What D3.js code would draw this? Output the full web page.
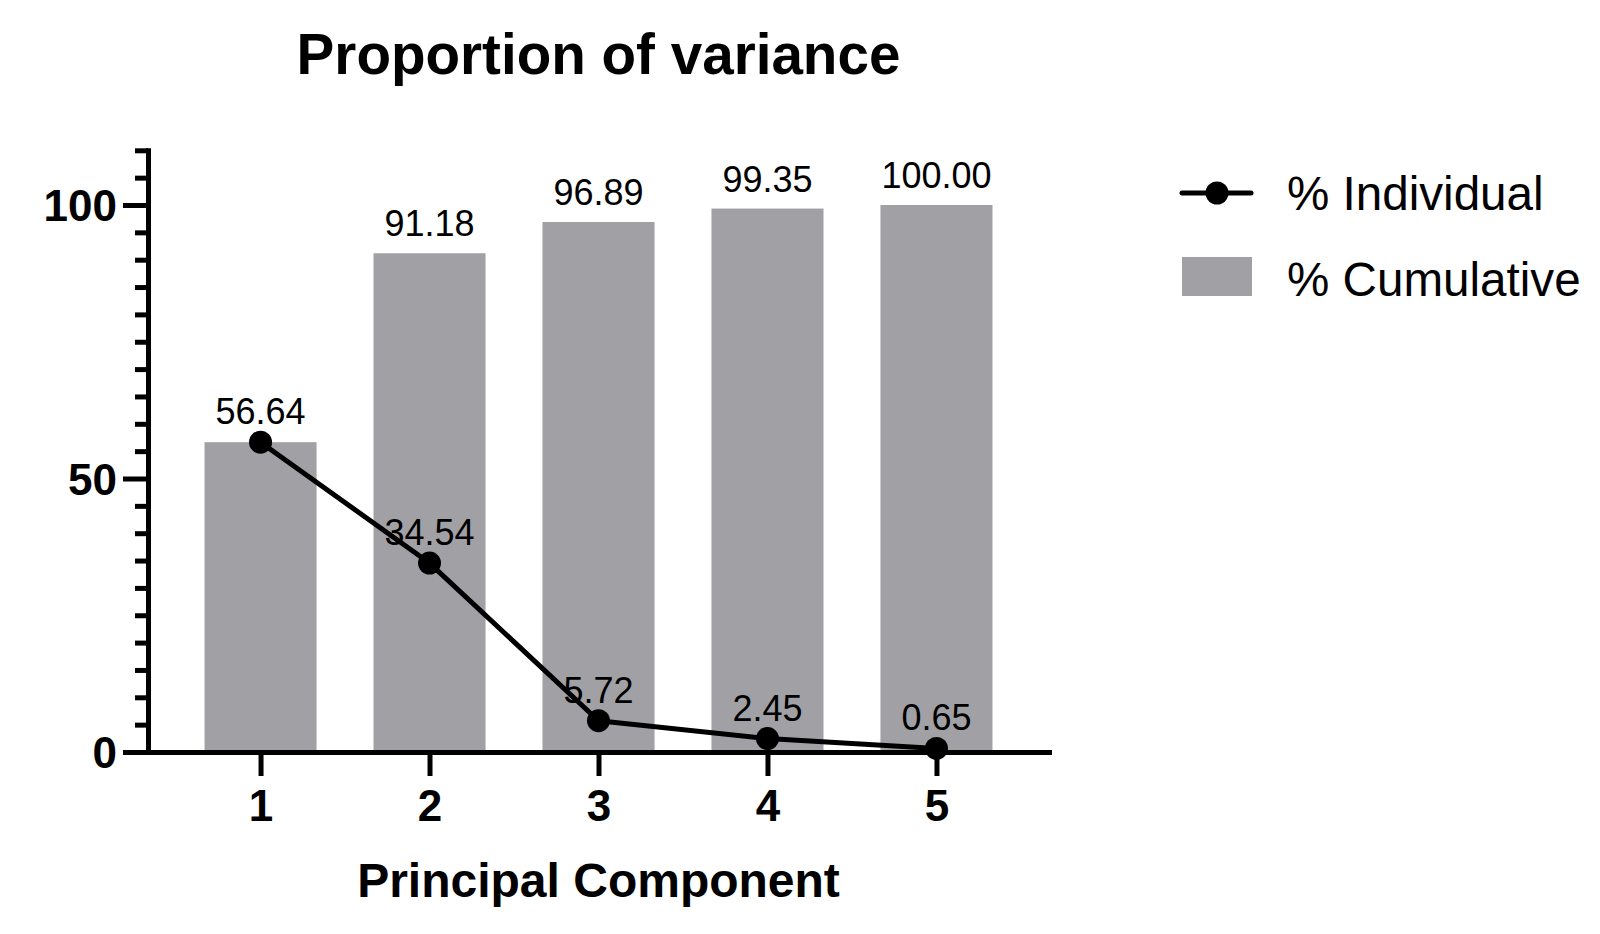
<!DOCTYPE html>
<html>
<head>
<meta charset="utf-8">
<script src="https://cdn.jsdelivr.net/npm/d3@7"></script>
<style>
  html, body { margin: 0; padding: 0; background: #fff; }
  svg { display: block; font-family: "Liberation Sans", Arial, Helvetica, sans-serif; }
</style>
</head>
<body>
<svg id="chart" width="1600" height="934"></svg>
<script>
// ---- Data ----
const components = ["1", "2", "3", "4", "5"];
const individual = [56.64, 34.54, 5.72, 2.45, 0.65];
const cumulative = [56.64, 91.18, 96.89, 99.35, 100.00];
const yMajorTicks = [0, 50, 100];
const seriesNames = ["% Individual", "% Cumulative"];
const titleText = "Proportion of variance";
const xTitleText = "Principal Component";

// ---- Layout ----
const svg = d3.select("#chart");
const left = 148, right = 1049, bottom = 752, yMax = 110;
const barColor = "#a1a0a5";

const x = d3.scalePoint().domain(components).range([left, right]).padding(0.666);
const y = d3.scaleLinear().domain([0, yMax]).range([bottom, bottom - yMax * 5.47]);
const barW = x.step() * 0.663;

// Bars (cumulative)
svg.append("g").selectAll("rect")
  .data(components)
  .join("rect")
  .attr("x", (d) => x(d) - barW / 2)
  .attr("y", (d, i) => y(cumulative[i]))
  .attr("width", barW)
  .attr("height", (d, i) => y(0) - y(cumulative[i]))
  .attr("fill", barColor);

// Y axis
const yTicks = d3.range(0, yMax + 0.001, 5);
const yAxis = svg.append("g")
  .attr("transform", `translate(${left},0)`)
  .call(d3.axisLeft(y).tickValues(yTicks).tickSize(13).tickSizeOuter(0).tickPadding(18)
    .tickFormat((d) => yMajorTicks.includes(d) ? d : ""));
yAxis.select(".domain").attr("stroke", "#000").attr("stroke-width", 5).attr("stroke-linecap", "square");
yAxis.selectAll(".tick line").attr("stroke", "#000").attr("stroke-width", 5)
  .attr("x2", (d) => yMajorTicks.includes(d) ? -25 : -13);
yAxis.selectAll(".tick text")
  .attr("fill", "#000").attr("font-size", 44).attr("font-weight", "bold")
  .attr("font-family", "Liberation Sans, Arial, sans-serif")
  .attr("x", -31).attr("dy", "0.36em");

// X axis
const xAxis = svg.append("g")
  .attr("transform", `translate(0,${bottom})`)
  .call(d3.axisBottom(x).tickSize(24).tickSizeOuter(0).tickPadding(14));
xAxis.select(".domain").attr("stroke", "#000").attr("stroke-width", 5).attr("stroke-linecap", "square");
xAxis.selectAll(".tick line").attr("stroke", "#000").attr("stroke-width", 5);
xAxis.selectAll(".tick text")
  .attr("fill", "#000").attr("font-size", 44).attr("font-weight", "bold")
  .attr("font-family", "Liberation Sans, Arial, sans-serif");

// Line (individual)
const line = d3.line().x((d, i) => x(components[i])).y((d) => y(d));
svg.append("path")
  .datum(individual)
  .attr("d", line)
  .attr("fill", "none")
  .attr("stroke", "#000")
  .attr("stroke-width", 5)
  .attr("stroke-linejoin", "round");

svg.append("g").selectAll("circle")
  .data(individual)
  .join("circle")
  .attr("cx", (d, i) => x(components[i]))
  .attr("cy", (d) => y(d))
  .attr("r", 11.5)
  .attr("fill", "#000");

// Value labels
svg.append("g").selectAll("text")
  .data(cumulative.slice(1))
  .join("text")
  .attr("x", (d, i) => x(components[i + 1]))
  .attr("y", (d) => y(d) - 17)
  .attr("text-anchor", "middle")
  .attr("font-size", 36)
  .attr("fill", "#000")
  .text((d) => d.toFixed(2));

svg.append("g").selectAll("text")
  .data(individual)
  .join("text")
  .attr("x", (d, i) => x(components[i]))
  .attr("y", (d) => y(d) - 18)
  .attr("text-anchor", "middle")
  .attr("font-size", 36)
  .attr("fill", "#000")
  .text((d) => d.toFixed(2));

// Title
svg.append("text")
  .attr("x", (left + right) / 2)
  .attr("y", 74)
  .attr("text-anchor", "middle")
  .attr("font-size", 56.6)
  .attr("font-weight", "bold")
  .text(titleText);

// X axis title
svg.append("text")
  .attr("x", (left + right) / 2)
  .attr("y", 897)
  .attr("text-anchor", "middle")
  .attr("font-size", 48)
  .attr("font-weight", "bold")
  .text(xTitleText);

// Legend
const lg = svg.append("g");
lg.append("line").attr("x1", 1182).attr("x2", 1251).attr("y1", 193).attr("y2", 193)
  .attr("stroke", "#000").attr("stroke-width", 5).attr("stroke-linecap", "round");
lg.append("circle").attr("cx", 1217).attr("cy", 193).attr("r", 11.5).attr("fill", "#000");
lg.append("text").attr("x", 1287).attr("y", 210).attr("font-size", 47.6).text(seriesNames[0]);
lg.append("rect").attr("x", 1182).attr("y", 257).attr("width", 70).attr("height", 39).attr("fill", barColor);
lg.append("text").attr("x", 1287).attr("y", 296).attr("font-size", 47.6).text(seriesNames[1]);
</script>
</body>
</html>
